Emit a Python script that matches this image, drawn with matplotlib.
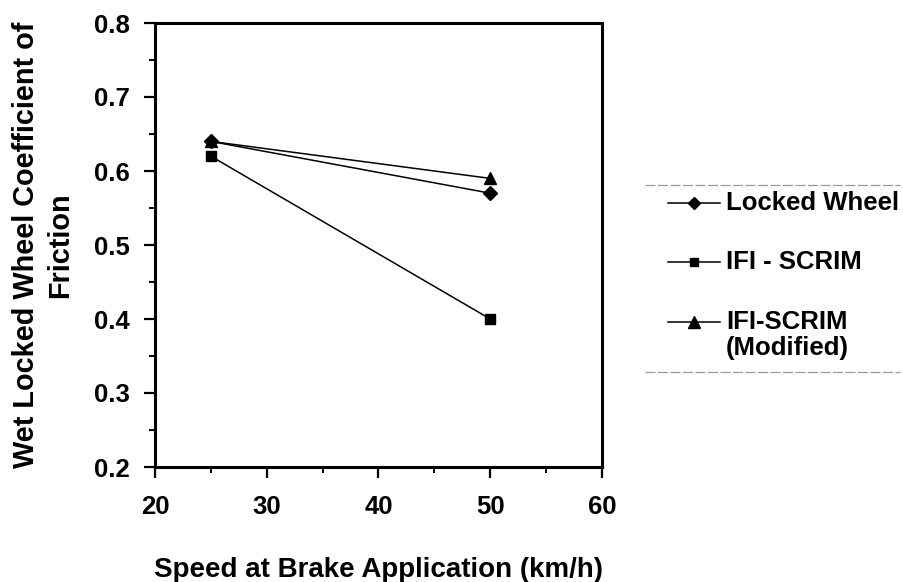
import matplotlib
matplotlib.use('Agg')
import matplotlib.pyplot as plt
from matplotlib.lines import Line2D
from matplotlib.ticker import MultipleLocator

plt.rcParams['font.family'] = ['Liberation Sans', 'DejaVu Sans']
plt.rcParams['font.weight'] = 'bold'

# Friction measurements at the two test speeds
speeds = [25, 50]
locked_wheel = [0.64, 0.57]
ifi_scrim = [0.62, 0.40]
ifi_scrim_mod = [0.64, 0.59]

series_labels = ['Locked Wheel', 'IFI - SCRIM', 'IFI-SCRIM\n(Modified)']
series_markers = ['D', 's', '^']
marker_sizes = [7, 7, 9]

W, H = 904, 582
fig = plt.figure(figsize=(W / 100, H / 100), dpi=100)
ax = fig.add_axes([155 / W, 1 - 467 / H, (602 - 155) / W, (467 - 23) / H])

for vals, mk, ms in zip([locked_wheel, ifi_scrim, ifi_scrim_mod], series_markers, marker_sizes):
    ax.plot(speeds, vals, color='black', lw=1.1, marker=mk, ms=ms,
            markerfacecolor='black', markeredgecolor='black')

ax.set_xlim(20, 60)
ax.set_ylim(0.2, 0.8)
ax.xaxis.set_major_locator(MultipleLocator(10))
ax.xaxis.set_minor_locator(MultipleLocator(5))
ax.yaxis.set_major_locator(MultipleLocator(0.1))
ax.yaxis.set_minor_locator(MultipleLocator(0.05))
ax.yaxis.set_major_formatter(plt.FuncFormatter(lambda v, p: f'{v:.1f}'))

for s in ax.spines.values():
    s.set_linewidth(2.2)
ax.tick_params(which='major', direction='out', length=8, width=1.6, labelsize=18.5)
ax.tick_params(which='minor', direction='out', length=4.5, width=1.4)
ax.tick_params(axis='x', which='major', pad=12)
ax.tick_params(axis='y', which='major', pad=10)

ax.set_xlabel('Speed at Brake Application (km/h)', fontsize=20, fontweight='bold')
ax.xaxis.set_label_coords(0.5, -0.202)
ax.set_ylabel('Wet Locked Wheel Coefficient of\nFriction', fontsize=20.8,
              fontweight='bold', linespacing=1.3)
ax.yaxis.set_label_coords(-0.18, 0.5)


def px(x, y):
    return x / W, 1 - y / H


# legend drawn by hand, boxed by a line above and below
for yy in [185, 372]:
    x0, y0 = px(645, yy)
    x1, _ = px(900, yy)
    fig.add_artist(Line2D([x0, x1], [y0, y0], color='#9a9a9a', lw=0.9,
                          linestyle=(0, (8, 2))))

entry_y = [203, 262, 322]
text_y = [203, 262, 335]
for ey, ty, lab, mk, ms in zip(entry_y, text_y, series_labels, series_markers, marker_sizes):
    hx0, hy = px(668, ey)
    hx1, _ = px(720, ey)
    mx, _ = px(694, ey)
    fig.add_artist(Line2D([hx0, hx1], [hy, hy], color='black', lw=1.1))
    fig.add_artist(Line2D([mx], [hy], color='black', marker=mk, ms=ms - 1,
                          markerfacecolor='black', markeredgecolor='black'))
    tx, tyf = px(726, ty)
    fig.text(tx, tyf, lab, fontsize=18.5, fontweight='bold', ha='left', va='center',
             linespacing=1.15)

fig.savefig('out.png', dpi=100)
